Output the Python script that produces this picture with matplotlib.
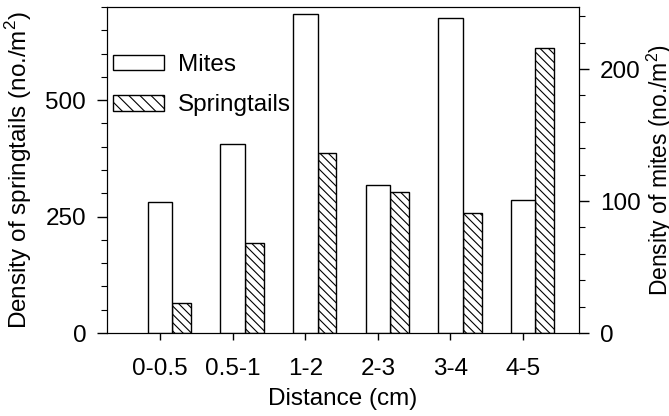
import matplotlib
matplotlib.use("Agg")
import matplotlib.pyplot as plt
import numpy as np
from matplotlib.patches import Patch
from matplotlib.ticker import MultipleLocator

plt.rcParams["font.family"] = "Liberation Sans"
plt.rcParams["mathtext.fontset"] = "custom"
plt.rcParams["mathtext.rm"] = "Liberation Sans"
plt.rcParams["hatch.linewidth"] = 0.8

# data
distances = ["0-0.5", "0.5-1", "1-2", "2-3", "3-4", "4-5"]
mites = [99, 143, 242, 112, 239, 101]          # no./m2, right axis
springtails = [64, 193, 386, 303, 258, 612]    # no./m2, left axis

x = np.arange(len(distances))
fs = 17.5

fig = plt.figure(figsize=(6.69, 4.16), dpi=100)
ax1 = fig.add_axes([0.16, 0.1995, 0.7055, 0.7835])
ax2 = ax1.twinx()

ax1.bar(x + 0.17, springtails, width=0.26, align="edge", facecolor="white",
        edgecolor="black", linewidth=1.0, hatch="\\\\\\\\")
ax2.bar(x, mites, width=0.34, facecolor="white", edgecolor="black", linewidth=1.0)

ax1.set_xlim(-0.73, 5.77)
ax1.set_ylim(0, 700)
ax2.set_ylim(0, 247)

ax1.set_xticks(x)
ax1.set_xticklabels(distances, fontsize=fs)
ax1.yaxis.set_major_locator(MultipleLocator(250))
ax1.yaxis.set_minor_locator(MultipleLocator(50))
ax2.yaxis.set_major_locator(MultipleLocator(100))
ax2.yaxis.set_minor_locator(MultipleLocator(20))

ax1.tick_params(axis="x", which="major", labelsize=fs, length=5, width=1, pad=13)
ax1.tick_params(axis="y", which="major", labelsize=fs, length=7, width=1, pad=8)
ax1.tick_params(axis="y", which="minor", length=4, width=0.8)
ax2.tick_params(axis="y", which="major", labelsize=fs, length=7, width=1, pad=8)
ax2.tick_params(axis="y", which="minor", length=4, width=0.8)

ax1.set_xlabel("Distance (cm)", fontsize=fs, labelpad=6)
ax1.set_ylabel("Density of springtails (no./m$^2$)", fontsize=fs)
ax2.set_ylabel("Density of mites (no./m$^2$)", fontsize=16.5)
ax1.yaxis.set_label_coords(-0.155, 0.5)
ax2.yaxis.set_label_coords(1.140, 0.5)

handles = [Patch(facecolor="white", edgecolor="black", linewidth=1.0),
           Patch(facecolor="white", edgecolor="black", linewidth=1.0, hatch="\\\\\\")]
ax1.legend(handles, ["Mites", "Springtails"], loc="upper left",
           bbox_to_anchor=(-0.019, 0.90), frameon=False, fontsize=fs,
           handlelength=2.1, handleheight=0.6, handletextpad=0.6,
           labelspacing=0.75, borderaxespad=0.2)

fig.savefig("out.png", dpi=100)
